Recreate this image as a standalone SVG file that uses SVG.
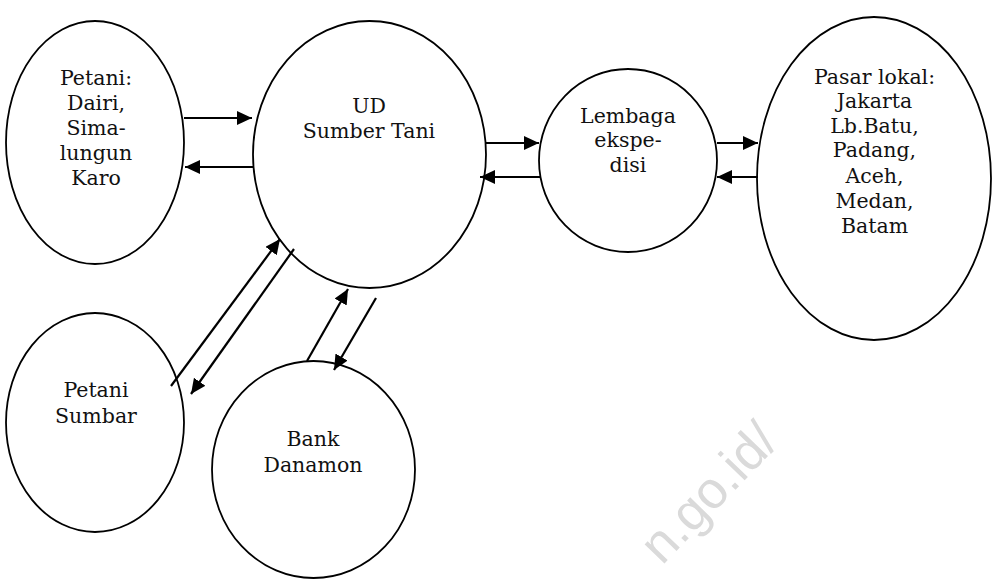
<svg xmlns="http://www.w3.org/2000/svg" width="994" height="579" viewBox="0 0 994 579">
  <style>
    .node { fill: #ffffff; stroke: #000000; stroke-width: 1.8; }
    .label { font-family: "DejaVu Serif", "Liberation Serif", serif; font-size: 20.5px; fill: #111111; text-anchor: middle; }
    .flow { stroke: #000000; stroke-width: 2.2; fill: none; marker-end: url(#head); }
    .mark { font-family: "Liberation Sans", Arial, sans-serif; font-size: 52px; fill: #dadada; }
  </style>
  <defs>
    <marker id="head" markerUnits="userSpaceOnUse" markerWidth="16" markerHeight="15" refX="15" refY="7" orient="auto">
      <path d="M0,0 L15,7 L0,14 z" fill="#000000"/>
    </marker>
  </defs>
  <rect width="994" height="579" fill="#ffffff"/>

  <!-- faint site watermark -->
  <text class="mark" x="662" y="566" transform="rotate(-46 662 566)">n.go.id/</text>

  <g id="petani-dairi">
    <ellipse class="node" cx="95" cy="142.5" rx="89" ry="121.5"/>
    <text class="label" x="96" y="85">Petani:</text>
    <text class="label" x="96" y="110">Dairi,</text>
    <text class="label" x="96" y="135">Sima-</text>
    <text class="label" x="96" y="160">lungun</text>
    <text class="label" x="96" y="185">Karo</text>
  </g>

  <g id="ud-sumber-tani">
    <ellipse class="node" cx="369.5" cy="154.5" rx="116.5" ry="133.5"/>
    <text class="label" x="369" y="113">UD</text>
    <text class="label" x="369" y="138">Sumber Tani</text>
  </g>

  <g id="lembaga-ekspedisi">
    <ellipse class="node" cx="628" cy="160.5" rx="89" ry="91.5"/>
    <text class="label" x="628" y="123">Lembaga</text>
    <text class="label" x="628" y="147">ekspe-</text>
    <text class="label" x="628" y="172">disi</text>
  </g>

  <g id="pasar-lokal">
    <ellipse class="node" cx="874" cy="178.5" rx="117" ry="161.5"/>
    <text class="label" x="874.5" y="84">Pasar lokal:</text>
    <text class="label" x="874.5" y="108">Jakarta</text>
    <text class="label" x="874.5" y="133">Lb.Batu,</text>
    <text class="label" x="874.5" y="157">Padang,</text>
    <text class="label" x="874.5" y="183">Aceh,</text>
    <text class="label" x="874.5" y="208">Medan,</text>
    <text class="label" x="874.5" y="233">Batam</text>
  </g>

  <g id="petani-sumbar">
    <ellipse class="node" cx="95" cy="422.5" rx="89" ry="109.5"/>
    <text class="label" x="96" y="397">Petani</text>
    <text class="label" x="96" y="423">Sumbar</text>
  </g>

  <g id="bank-danamon">
    <ellipse class="node" cx="313.5" cy="469.5" rx="101.5" ry="108.5"/>
    <text class="label" x="313" y="446">Bank</text>
    <text class="label" x="313" y="472">Danamon</text>
  </g>

  <g id="connectors">
    <line class="flow" x1="184" y1="118" x2="252" y2="118"/>
    <line class="flow" x1="253" y1="167" x2="185" y2="167"/>
    <line class="flow" x1="486" y1="143" x2="539" y2="143"/>
    <line class="flow" x1="540" y1="177" x2="480" y2="177"/>
    <line class="flow" x1="717" y1="143" x2="758" y2="143"/>
    <line class="flow" x1="758" y1="177" x2="717" y2="177"/>
    <line class="flow" x1="171" y1="386" x2="280" y2="239"/>
    <line class="flow" x1="294" y1="249" x2="191" y2="394"/>
    <line class="flow" x1="307" y1="361" x2="348" y2="289"/>
    <line class="flow" x1="376" y1="298" x2="334" y2="370"/>
  </g>
</svg>
